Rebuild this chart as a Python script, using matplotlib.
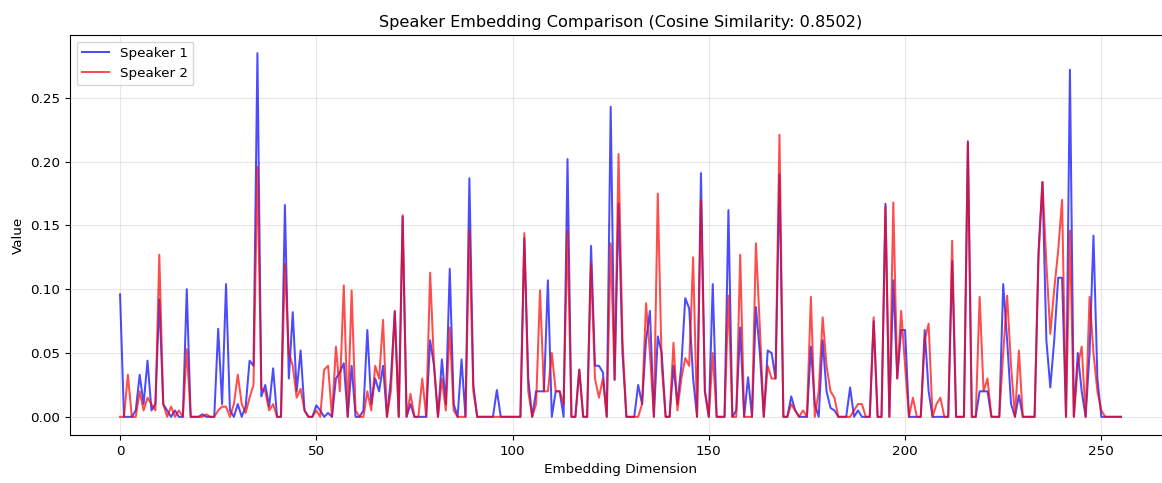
import matplotlib
matplotlib.use("Agg")
import matplotlib.pyplot as plt
import numpy as np

title = "Speaker Embedding Comparison (Cosine Similarity: 0.8502)"
xlabel = "Embedding Dimension"
ylabel = "Value"
labels = ["Speaker 1", "Speaker 2"]

speaker1 = [
    0.096, 0.0, 0.0, 0.0, 0.005, 0.033, 0.01, 0.044, 0.005, 0.01,
    0.092, 0.01, 0.005, 0.0, 0.005, 0.0, 0.0, 0.100, 0.0, 0.0,
    0.0, 0.002, 0.0, 0.0, 0.0, 0.069, 0.01, 0.104, 0.005, 0.0,
    0.01, 0.0, 0.008, 0.044, 0.04, 0.285, 0.016, 0.025, 0.008, 0.038,
    0.0, 0.0, 0.166, 0.03, 0.082, 0.02, 0.052, 0.005, 0.0, 0.0,
    0.009, 0.005, 0.0, 0.003, 0.0, 0.03, 0.035, 0.042, 0.0, 0.04,
    0.0, 0.0, 0.005, 0.068, 0.01, 0.03, 0.02, 0.04, 0.0, 0.03,
    0.083, 0.0, 0.157, 0.0, 0.01, 0.0, 0.0, 0.0, 0.0, 0.06,
    0.04, 0.0, 0.045, 0.01, 0.116, 0.01, 0.0, 0.045, 0.0, 0.187,
    0.025, 0.0, 0.0, 0.0, 0.0, 0.0, 0.021, 0.0, 0.0, 0.0,
    0.0, 0.0, 0.0, 0.14, 0.03, 0.0, 0.02, 0.02, 0.02, 0.107,
    0.0, 0.02, 0.02, 0.0, 0.202, 0.0, 0.0, 0.037, 0.0, 0.0,
    0.134, 0.04, 0.04, 0.035, 0.0, 0.243, 0.029, 0.167, 0.05, 0.0,
    0.0, 0.0, 0.025, 0.01, 0.06, 0.083, 0.0, 0.063, 0.05, 0.0,
    0.0, 0.04, 0.01, 0.04, 0.093, 0.085, 0.03, 0.0, 0.191, 0.02,
    0.0, 0.104, 0.0, 0.0, 0.0, 0.162, 0.0, 0.005, 0.07, 0.0,
    0.031, 0.0, 0.086, 0.05, 0.0, 0.052, 0.05, 0.03, 0.19, 0.0,
    0.0, 0.016, 0.005, 0.0, 0.0, 0.0, 0.055, 0.01, 0.0, 0.06,
    0.02, 0.007, 0.005, 0.0, 0.0, 0.0, 0.023, 0.0, 0.005, 0.0,
    0.0, 0.0, 0.075, 0.0, 0.0, 0.167, 0.0, 0.107, 0.03, 0.068,
    0.068, 0.0, 0.0, 0.0, 0.0, 0.068, 0.02, 0.0, 0.0, 0.0,
    0.0, 0.0, 0.122, 0.0, 0.0, 0.0, 0.216, 0.0, 0.0, 0.02,
    0.02, 0.02, 0.0, 0.0, 0.0, 0.104, 0.06, 0.01, 0.0, 0.017,
    0.0, 0.0, 0.0, 0.0, 0.13, 0.184, 0.06, 0.023, 0.06, 0.109,
    0.109, 0.0, 0.272, 0.0, 0.05, 0.02, 0.0, 0.05, 0.142, 0.03,
    0.0, 0.0, 0.0, 0.0, 0.0, 0.0,
]

speaker2 = [
    0.0, 0.0, 0.033, 0.0, 0.0, 0.02, 0.005, 0.015, 0.01, 0.005,
    0.127, 0.01, 0.0, 0.008, 0.0, 0.005, 0.0, 0.053, 0.0, 0.0,
    0.0, 0.0, 0.002, 0.0, 0.0, 0.005, 0.008, 0.008, 0.0, 0.01,
    0.033, 0.01, 0.003, 0.015, 0.025, 0.196, 0.022, 0.02, 0.005, 0.01,
    0.0, 0.0, 0.12, 0.05, 0.04, 0.015, 0.022, 0.005, 0.0, 0.0,
    0.005, 0.0, 0.037, 0.04, 0.0, 0.055, 0.02, 0.103, 0.0, 0.099,
    0.005, 0.0, 0.0, 0.02, 0.005, 0.04, 0.03, 0.076, 0.0, 0.02,
    0.082, 0.0, 0.158, 0.0, 0.018, 0.0, 0.0, 0.03, 0.0, 0.113,
    0.04, 0.0, 0.03, 0.005, 0.07, 0.005, 0.0, 0.0, 0.0, 0.146,
    0.02, 0.0, 0.0, 0.0, 0.0, 0.0, 0.0, 0.0, 0.0, 0.0,
    0.0, 0.0, 0.0, 0.144, 0.02, 0.0, 0.01, 0.099, 0.02, 0.02,
    0.05, 0.02, 0.02, 0.01, 0.146, 0.0, 0.0, 0.037, 0.0, 0.0,
    0.12, 0.03, 0.015, 0.03, 0.0, 0.136, 0.029, 0.206, 0.06, 0.0,
    0.0, 0.0, 0.0, 0.01, 0.089, 0.05, 0.0, 0.175, 0.04, 0.0,
    0.0, 0.058, 0.005, 0.03, 0.046, 0.04, 0.125, 0.0, 0.17, 0.02,
    0.0, 0.05, 0.0, 0.0, 0.0, 0.095, 0.0, 0.0, 0.127, 0.0,
    0.0, 0.0, 0.136, 0.07, 0.0, 0.04, 0.03, 0.03, 0.221, 0.0,
    0.0, 0.01, 0.005, 0.0, 0.005, 0.0, 0.094, 0.0, 0.02, 0.078,
    0.04, 0.02, 0.015, 0.0, 0.0, 0.0, 0.0, 0.005, 0.01, 0.01,
    0.0, 0.0, 0.078, 0.0, 0.0, 0.165, 0.0, 0.168, 0.03, 0.083,
    0.04, 0.0, 0.015, 0.0, 0.0, 0.06, 0.073, 0.0, 0.01, 0.015,
    0.0, 0.0, 0.138, 0.0, 0.0, 0.0, 0.215, 0.0, 0.0, 0.094,
    0.02, 0.03, 0.0, 0.0, 0.0, 0.05, 0.095, 0.04, 0.0, 0.052,
    0.0, 0.0, 0.0, 0.0, 0.125, 0.184, 0.12, 0.065, 0.1, 0.13,
    0.17, 0.0, 0.146, 0.0, 0.04, 0.055, 0.0, 0.094, 0.05, 0.02,
    0.005, 0.0, 0.0, 0.0, 0.0, 0.0,
]

W, H = 1162, 483
fig = plt.figure(figsize=(W / 100, H / 100), dpi=100)
ax = fig.add_axes([70 / W, (H - 435) / H, (1171 - 70) / W, 400 / H])

x = np.arange(len(speaker1))
ax.plot(x, speaker1, color="blue", alpha=0.7, linewidth=1.45, label=labels[0])
ax.plot(x, speaker2, color="red", alpha=0.7, linewidth=1.45, label=labels[1])

ax.set_title(title, fontsize=11.6)
ax.set_xlabel(xlabel, fontsize=9.7)
ax.set_ylabel(ylabel, fontsize=9.7)
ax.tick_params(labelsize=9.7)
ax.grid(True, alpha=0.3)
ax.legend(loc="upper left", fontsize=9.7)

fig.savefig("out.png", dpi=100)
